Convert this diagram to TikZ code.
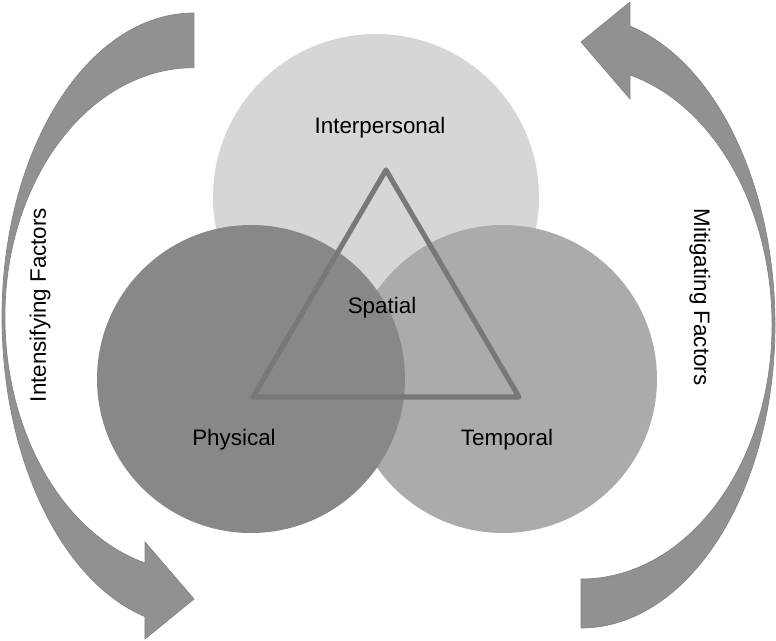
\documentclass[tikz,border=0pt]{standalone}
\usepackage{fontspec}
\setmainfont{Liberation Sans}
\definecolor{cTop}{HTML}{D6D6D6}
\definecolor{cRight}{HTML}{ABABAB}
\definecolor{cLeft}{HTML}{888888}
\definecolor{cTri}{HTML}{787878}
\definecolor{cArrow}{HTML}{919191}
\definecolor{cArrowEdge}{HTML}{838383}
\begin{document}
\begin{tikzpicture}[x=0.75pt,y=-0.75pt,
  venn/.style={circle, inner sep=0pt, draw=none},
  lbl/.style={inner sep=0pt, font=\fontsize{16.8}{20}\selectfont, text=black},
  bigarrow/.style={fill=cArrow, draw=cArrowEdge, line width=0.5pt, line join=miter},
  tri/.style={draw=cTri, line width=3.8pt, line join=round}]
\useasboundingbox (0,0) rectangle (776,641);
% circles
\node[venn, fill=cTop, minimum size=244.5pt] (inter) at (376,197) {};
\node[venn, fill=cRight, minimum size=231pt] (temp) at (503,379) {};
\node[venn, fill=cLeft, minimum size=231pt] (phys) at (251,379) {};
% triangle
\coordinate (ta) at (386,170);
\coordinate (tl) at (253,397);
\coordinate (tr) at (519,397);
\draw[tri] (ta) -- (tl) -- (tr) -- cycle;
% labels
\node[lbl] (linter) at (380,128) {Interpersonal};
\node[lbl] (lspat) at (382,308) {Spatial};
\node[lbl] (lphys) at (234,440) {Physical};
\node[lbl] (ltemp) at (507,440) {Temporal};
% left curved arrow (intensifying)
\draw[bigarrow] (194,13) arc[start angle=270, end angle=180, x radius=192, y radius=304]
  arc[start angle=180, end angle=104.8, x radius=192, y radius=310]
  -- (145,639) -- (194,599) -- (145,542) -- (145,563)
  arc[start angle=105.0, end angle=180, x radius=189, y radius=255]
  arc[start angle=180, end angle=270, x radius=189, y radius=249]
  -- cycle;
% right curved arrow (mitigating)
\draw[bigarrow] (581,628) arc[start angle=90, end angle=0, x radius=194, y radius=303]
  arc[start angle=0, end angle=-75.37, x radius=194, y radius=309]
  -- (630,2) -- (581,42) -- (630,99) -- (630,75)
  arc[start angle=-75.14, end angle=0, x radius=191, y radius=258.7]
  arc[start angle=0, end angle=90, x radius=191, y radius=254]
  -- cycle;
\node[lbl, rotate=90] (lint) at (40,305) {Intensifying Factors};
\node[lbl, rotate=-90] (lmit) at (700,297) {Mitigating Factors};
\end{tikzpicture}
\end{document}
